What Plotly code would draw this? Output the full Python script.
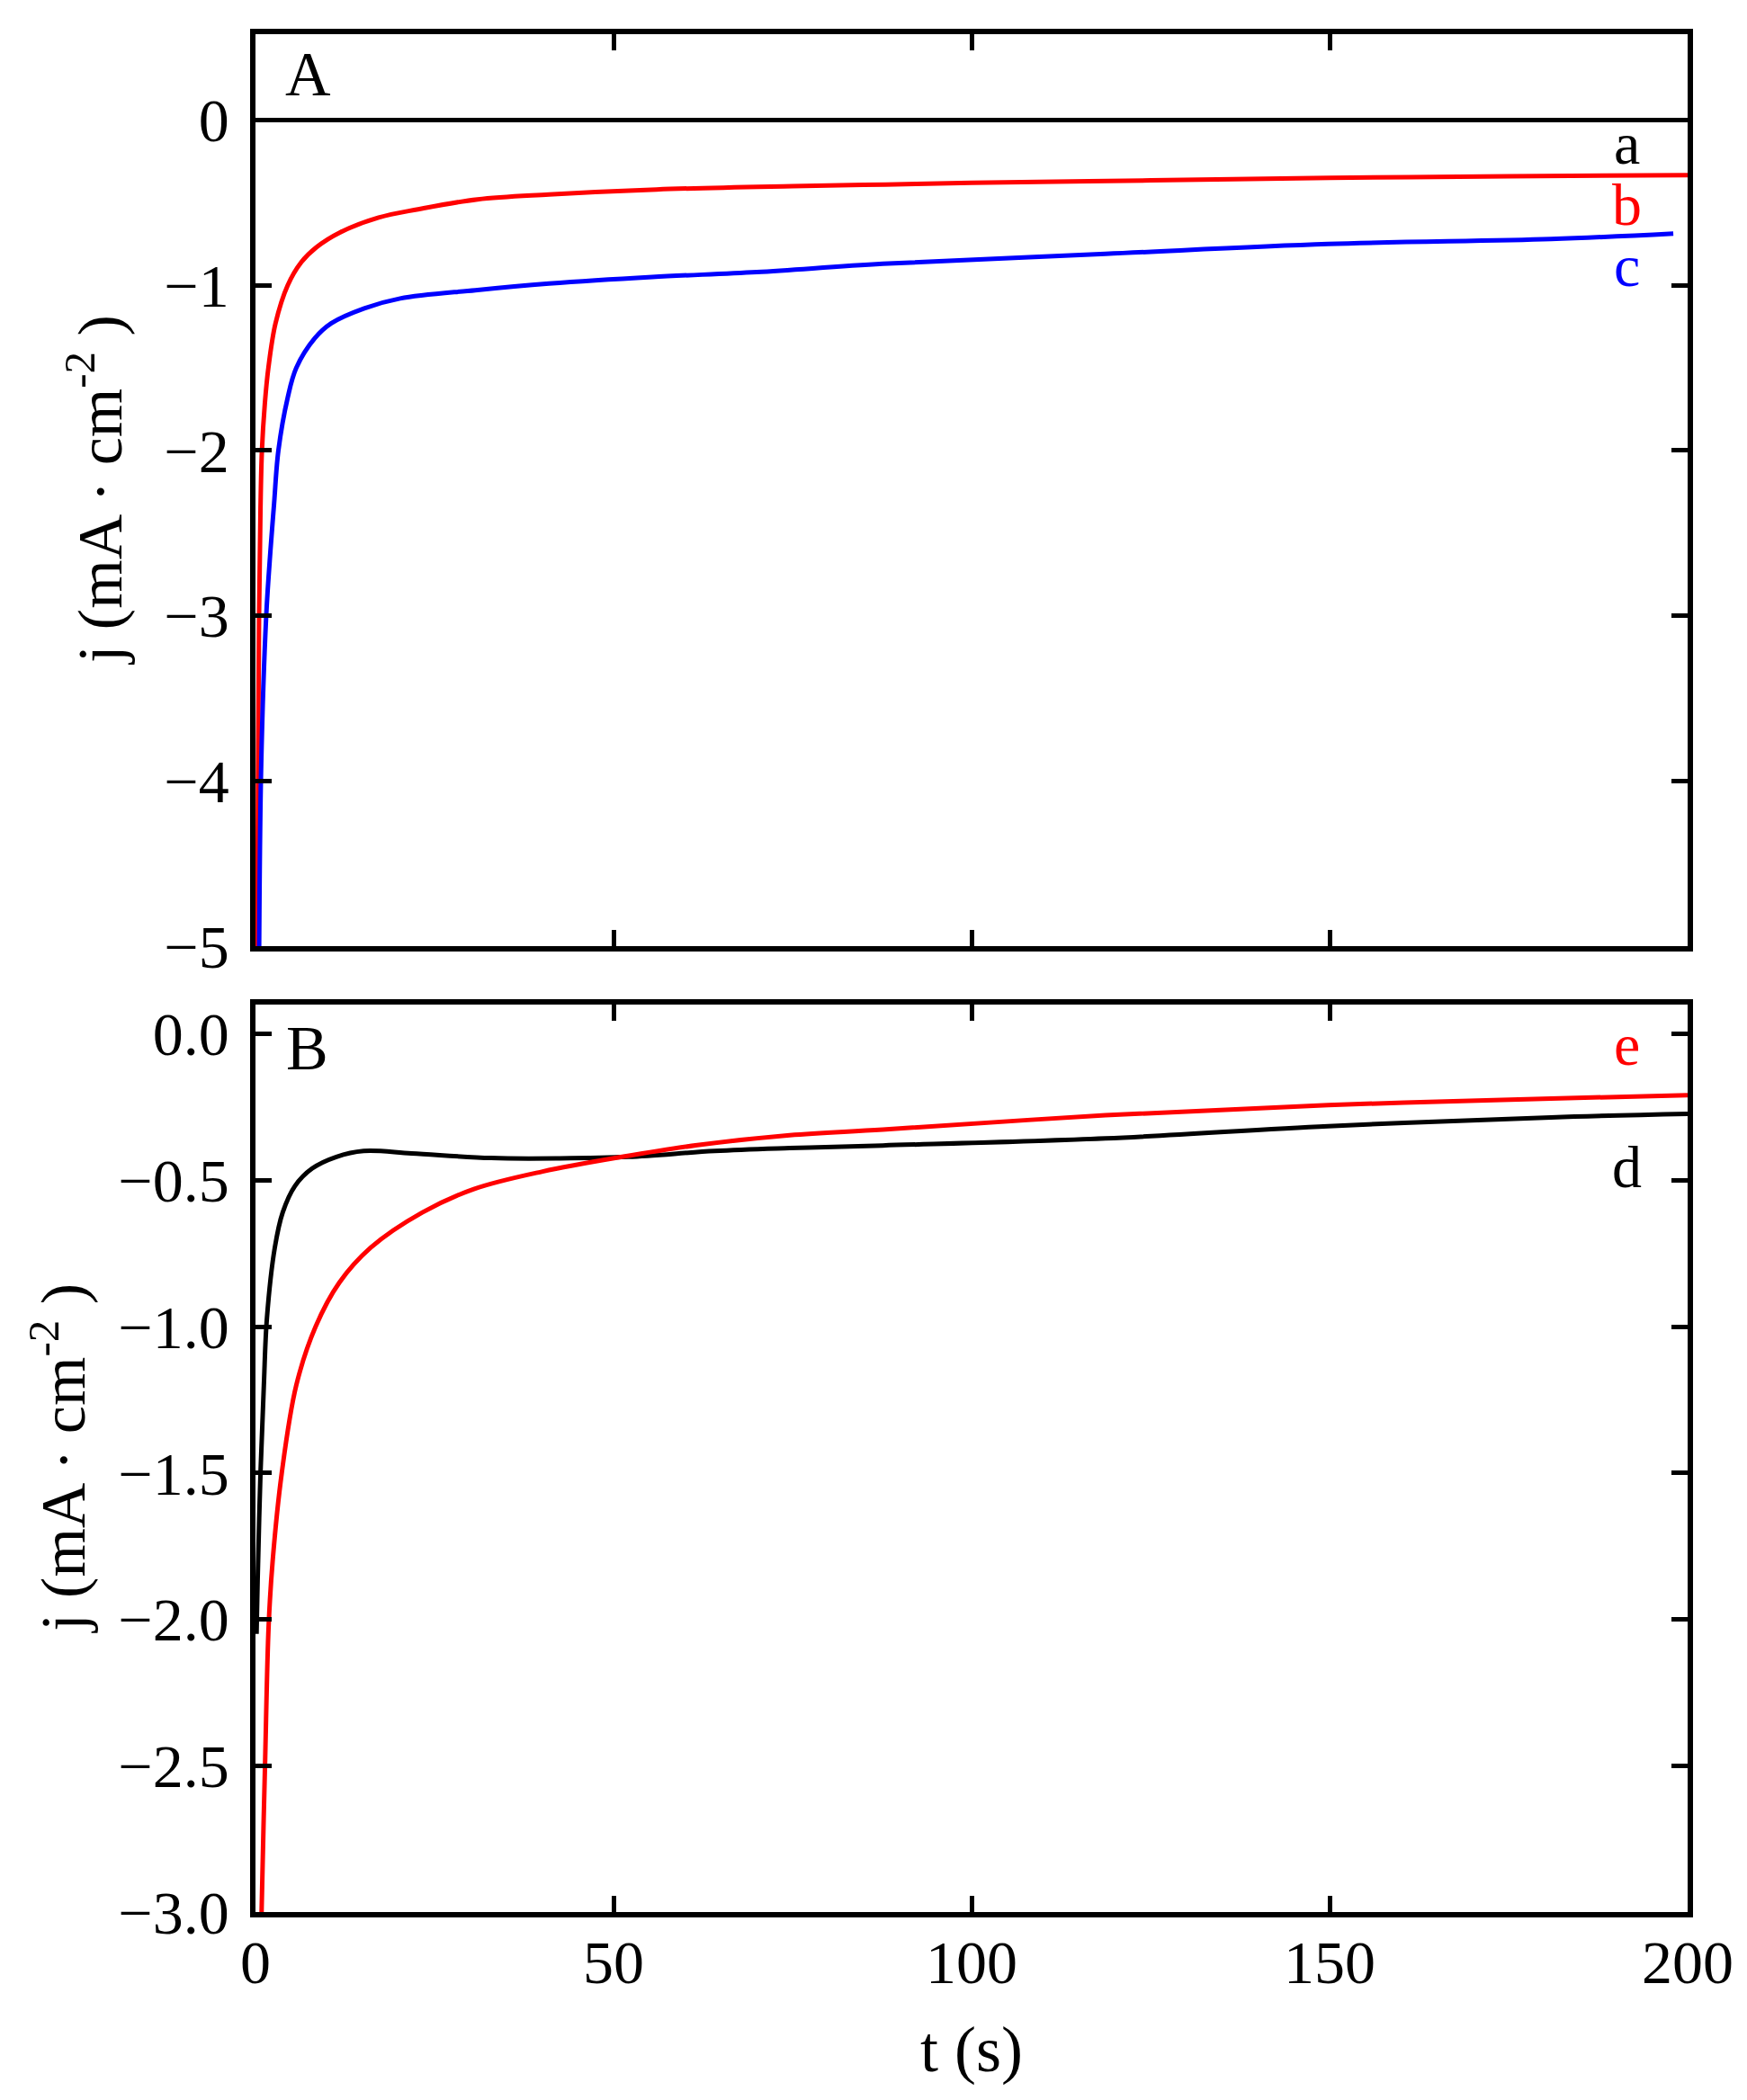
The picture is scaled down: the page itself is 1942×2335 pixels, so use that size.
import plotly.graph_objs as go

# Panel A: current density transients (t in s, j in mA cm^-2)
t_a = [0, 50, 100, 150, 200]
j_a = [0, 0, 0, 0, 0]

t_b = [0.25, 0.35, 0.5, 0.7, 0.9, 1.3, 1.8, 2.8, 4.5, 6.4, 8.5, 11.8, 17.2, 22.7,
       31, 41, 56, 75, 88, 100, 125, 150, 175, 200]
j_b = [-5.1, -4.0, -3.0, -2.35, -2.0, -1.72, -1.50, -1.23, -1.0, -0.86, -0.77, -0.68,
       -0.59, -0.54, -0.48, -0.45, -0.42, -0.40, -0.39, -0.38, -0.365, -0.35, -0.34, -0.333]

t_c = [0.5, 0.8, 1.5, 2.1, 2.6, 3.2, 4.5, 5.7, 8.3, 10.6, 15.2, 20.2, 30.7, 41, 55.4,
       70, 87.6, 118.7, 149.8, 180.9, 198]
j_c = [-5.1, -3.9, -3.0, -2.6, -2.32, -2.0, -1.68, -1.50, -1.32, -1.23, -1.14, -1.08,
       -1.03, -0.99, -0.95, -0.92, -0.87, -0.81, -0.75, -0.72, -0.687]

# Panel B
t_d = [0.15, 0.3, 0.7, 1.17, 1.6, 2.7, 3.8, 5.5, 7.9, 11.3, 15.1, 21.8, 32.9, 42.5,
       52.1, 64.1, 74.6, 87.6, 118.7, 149.8, 180.9, 200]
j_d = [-2.05, -1.87, -1.5, -1.20, -0.97, -0.73, -0.61, -0.52, -0.46, -0.42, -0.40,
       -0.408, -0.424, -0.425, -0.42, -0.40, -0.39, -0.381, -0.357, -0.315, -0.285, -0.273]

t_e = [0.75, 0.85, 1.34, 1.84, 2.4, 3.67, 5.7, 8.4, 11.7, 16.1, 23.3, 30.5, 40.1,
       51.2, 61.7, 74.6, 87.6, 118.7, 149.8, 180.9, 200]
j_e = [-3.2, -3.0, -2.49, -2.02, -1.80, -1.5, -1.20, -1.0, -0.85, -0.73, -0.61, -0.53,
       -0.47, -0.42, -0.38, -0.346, -0.327, -0.278, -0.243, -0.221, -0.209]

font = 'Liberation Serif'

def curve(t, j, color, xa, ya):
    return go.Scatter(x=t, y=j, mode='lines', xaxis=xa, yaxis=ya, showlegend=False,
                      line=dict(color=color, width=5, shape='spline', smoothing=1.0))

data = [
    curve(t_a, j_a, 'black', 'x', 'y'),
    curve(t_b, j_b, '#ff0000', 'x', 'y'),
    curve(t_c, j_c, '#0000ff', 'x', 'y'),
    curve(t_d, j_d, 'black', 'x2', 'y2'),
    curve(t_e, j_e, '#ff0000', 'x2', 'y2'),
]

axis_style = dict(showline=True, linecolor='black', linewidth=5.5, mirror='allticks',
                  ticks='inside', ticklen=18, tickwidth=5, tickcolor='black',
                  showgrid=False, zeroline=False,
                  tickfont=dict(family=font, size=68, color='black'))

def label(text, x, y, color, xr, yr, size=66):
    return dict(text=text, x=x, y=y, xref=xr, yref=yr, showarrow=False,
                xanchor='center', yanchor='middle',
                font=dict(family=font, size=size, color=color))

ytitle = 'j (mA · cm<sup>-2</sup> )'

annotations = [
    label('A', 7.3, 0.28, 'black', 'x', 'y', 70),
    label('a', 191.5, -0.14, 'black', 'x', 'y'),
    label('b', 191.5, -0.51, '#ff0000', 'x', 'y'),
    label('c', 191.5, -0.88, '#0000ff', 'x', 'y'),
    label('B', 7.2, -0.05, 'black', 'x2', 'y2', 70),
    label('e', 191.5, -0.035, '#ff0000', 'x2', 'y2'),
    label('d', 191.5, -0.455, 'black', 'x2', 'y2'),
    dict(text=ytitle, x=-0.112, y=0.757, xref='paper', yref='paper', textangle=-90,
         showarrow=False, xanchor='center', yanchor='middle',
         font=dict(family=font, size=70, color='black')),
    dict(text=ytitle, x=-0.138, y=0.2416, xref='paper', yref='paper', textangle=-90,
         showarrow=False, xanchor='center', yanchor='middle',
         font=dict(family=font, size=70, color='black')),
    dict(text='t (s)', x=0.5, y=-0.0733, xref='paper', yref='paper',
         showarrow=False, xanchor='center', yanchor='middle',
         font=dict(family=font, size=72, color='black')),
]

layout = go.Layout(
    width=1942, height=2335,
    margin=dict(l=276, r=74, t=30, b=217),
    paper_bgcolor='white', plot_bgcolor='white',
    xaxis=dict(axis_style, range=[0, 200], dtick=50, anchor='y', showticklabels=False),
    yaxis=dict(axis_style, range=[-5, 0.52], dtick=1, tick0=0, anchor='x',
               domain=[0.5144, 1], ticklabelstandoff=10),
    xaxis2=dict(axis_style, range=[0, 200], dtick=50, anchor='y2', ticklabelstandoff=-8),
    yaxis2=dict(axis_style, range=[-3, 0.1], dtick=0.5, tick0=0, tickformat='.1f',
                anchor='x2', domain=[0, 0.4832], ticklabelstandoff=10),
    annotations=annotations,
)

fig = go.Figure(data=data, layout=layout)
fig.write_html('out.html')
